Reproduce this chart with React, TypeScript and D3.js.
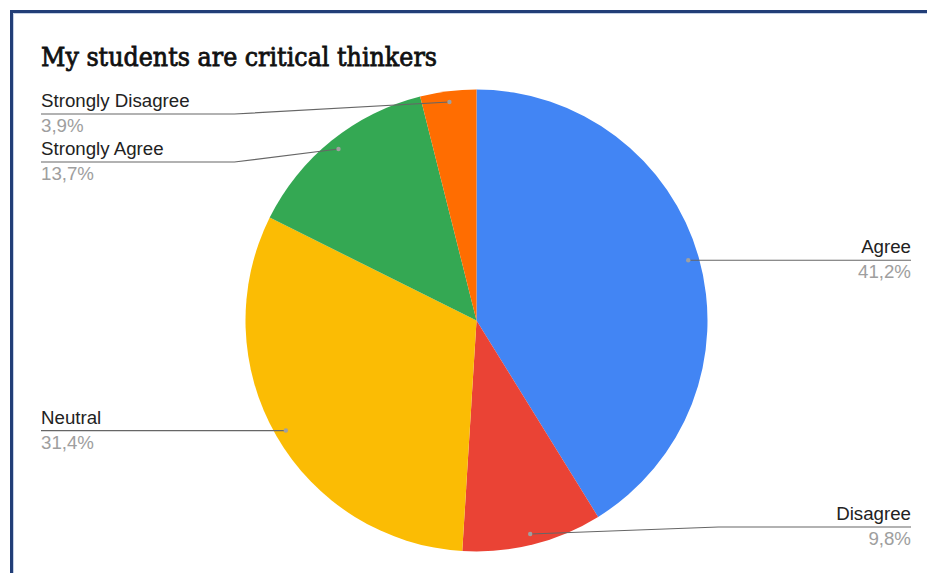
import React from "react";
import * as d3 from "d3";

const categories = ["Agree", "Disagree", "Neutral", "Strongly Agree", "Strongly Disagree"];
const values = [21, 5, 16, 7, 2];
const colors = ["#4285f4", "#ea4335", "#fbbc04", "#34a853", "#ff6d01"];
const title = "My students are critical thinkers";

const W = 927;
const H = 573;
const cx = 476.5;
const cy = 320.5;
const R = 231;

export default function App() {
  const total = d3.sum(values);
  const pie = d3.pie<number>().sort(null).value((d) => d)(values);
  const arc = d3.arc<d3.PieArcDatum<number>>().innerRadius(0).outerRadius(R);
  const fmt = (v: number) => ((v / total) * 100).toFixed(1).replace(".", ",") + "%";

  // label layout
  const items = pie.map((p, i) => {
    const mid = (p.startAngle + p.endAngle) / 2;
    const dx = Math.sin(mid) * R * 0.953;
    const dy = -Math.cos(mid) * R * 0.953;
    return { i, p, dotX: cx + dx, dotY: cy + dy, side: dx >= 0 ? "right" : "left", lineY: cy + dy };
  });
  const minY = 114;
  const maxY = 527;
  const gap = 48;
  (["left", "right"] as const).forEach((side) => {
    const s = items.filter((d) => d.side === side).sort((a, b) => a.dotY - b.dotY);
    s.forEach((d) => (d.lineY = Math.max(minY, Math.min(maxY, d.dotY))));
    for (let k = 1; k < s.length; k++) {
      if (s[k].lineY < s[k - 1].lineY + gap) s[k].lineY = s[k - 1].lineY + gap;
    }
    for (let k = s.length - 2; k >= 0; k--) {
      if (s[k].lineY > s[k + 1].lineY - gap) s[k].lineY = s[k + 1].lineY - gap;
    }
  });

  const leftX = 41;
  const rightX = 911;
  const elbow = R + 11;

  return (
    <svg
      width={W}
      height={H}
      style={{ position: "absolute", left: 0, top: 0, background: "#fff" }}
      fontFamily="'Liberation Sans', Arial, sans-serif"
    >
      <rect x={0} y={0} width={W} height={H} fill="#fff" />
      <path d={`M11.5,${H} V11.5 H${W}`} fill="none" stroke="#223e77" strokeWidth={3} />
      <path d={`M13.5,${H} V13.5 H${W}`} fill="none" stroke="#9fb3d6" strokeWidth={1} opacity={0.6} />
      <text
        x={41}
        y={66}
        fontFamily="'DejaVu Serif', 'Liberation Serif', serif"
        fontWeight="normal"
        fontSize={25.5}
        fill="#111"
        stroke="#111"
        strokeWidth={0.8}
        textLength={396}
        lengthAdjust="spacingAndGlyphs"
      >
        {title}
      </text>
      <g transform={`translate(${cx},${cy})`}>
        {pie.map((p, i) => (
          <path key={i} d={arc(p) || ""} fill={colors[i]} />
        ))}
      </g>
      {items.map((d) => {
        const isLeft = d.side === "left";
        const ex = isLeft ? cx - elbow : cx + elbow;
        const tx = isLeft ? leftX : rightX;
        const pts =
          Math.abs(d.lineY - d.dotY) < 1
            ? `M${d.dotX},${d.lineY} H${tx}`
            : `M${d.dotX},${d.dotY} L${ex},${d.lineY} H${tx}`;
        return (
          <g key={d.i}>
            <path d={pts} fill="none" stroke="#666" strokeWidth={1.2} />
            <circle cx={d.dotX} cy={d.dotY} r={2.2} fill="#a0a0a0" />
            <text
              x={tx}
              y={d.lineY - 7}
              fontSize={18.7}
              fill="#222"
              textAnchor={isLeft ? "start" : "end"}
            >
              {categories[d.i]}
            </text>
            <text
              x={tx}
              y={d.lineY + 18}
              fontSize={18.7}
              fill="#9e9e9e"
              textAnchor={isLeft ? "start" : "end"}
            >
              {fmt(values[d.i])}
            </text>
          </g>
        );
      })}
    </svg>
  );
}
